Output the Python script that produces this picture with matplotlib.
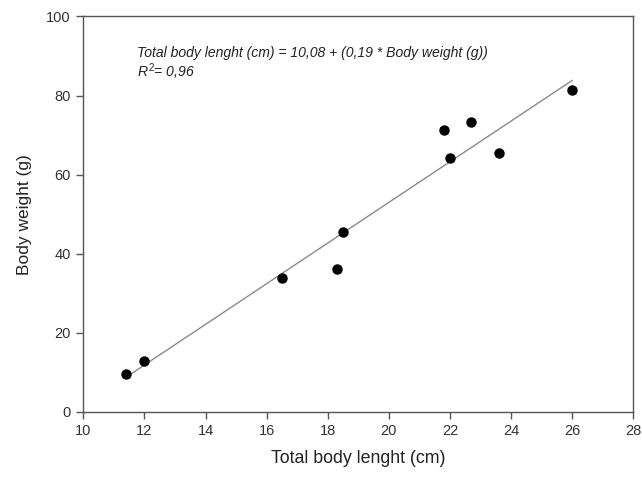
import matplotlib.pyplot as plt
import numpy as np

plt.rcParams['font.family'] = ['Liberation Sans', 'DejaVu Sans']
plt.rcParams['mathtext.fontset'] = 'custom'
plt.rcParams['mathtext.it'] = 'Liberation Sans:italic'
plt.rcParams['mathtext.rm'] = 'Liberation Sans'

body_length = [11.4, 12.0, 16.5, 18.3, 18.5, 21.8, 22.0, 22.7, 23.6, 26.0]
body_weight = [9.7, 12.9, 33.9, 36.1, 45.5, 71.3, 64.1, 73.2, 65.6, 81.3]

# regression line as drawn
fit_slope = 5.14
fit_intercept = -49.8
fit_x = [11.5, 26.0]

x_ticks = [10, 12, 14, 16, 18, 20, 22, 24, 26, 28]
y_ticks = [0, 20, 40, 60, 80, 100]

fig = plt.figure(figsize=(6.42, 4.79), dpi=100)
ax = fig.add_axes([0.1298, 0.1399, 0.8567, 0.8257])

fx = np.array(fit_x)
ax.plot(fx, fit_slope * fx + fit_intercept, color='#8a8a8a', lw=1.0, zorder=2)
ax.plot(body_length, body_weight, 'o', color='black', ms=6.5, zorder=3)

ax.set_xlim(10, 28)
ax.set_ylim(0, 100)
ax.set_xticks(x_ticks)
ax.set_yticks(y_ticks)
ax.tick_params(direction='out', length=5, width=1, color='#555555',
               labelsize=10.5, labelcolor='#333333', pad=4)
for s in ax.spines.values():
    s.set_color('#555555')
    s.set_linewidth(1)

ax.set_xlabel('Total body lenght (cm)', fontsize=12.8, color='#222222', labelpad=8)
ax.set_ylabel('Body weight (g)', fontsize=12.5, color='#222222', labelpad=10)

ax.text(0.098, 0.8976, 'Total body lenght (cm) = 10,08 + (0,19 * Body weight (g))',
        transform=ax.transAxes, fontsize=10.1, style='italic', color='#222222',
        va='baseline')
ax.text(0.098, 0.848, '$R^2$= 0,96', transform=ax.transAxes, fontsize=10.1,
        style='italic', color='#222222', va='baseline')

fig.savefig('out.png', dpi=100)
